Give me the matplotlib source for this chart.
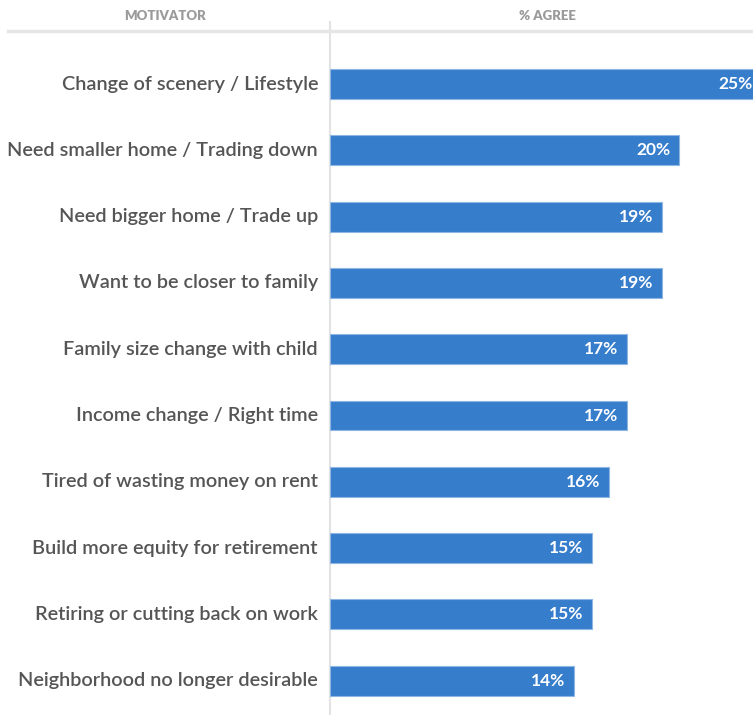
import matplotlib.pyplot as plt
from matplotlib.lines import Line2D

motivators = [
    "Change of scenery / Lifestyle",
    "Need smaller home / Trading down",
    "Need bigger home / Trade up",
    "Want to be closer to family",
    "Family size change with child",
    "Income change / Right time",
    "Tired of wasting money on rent",
    "Build more equity for retirement",
    "Retiring or cutting back on work",
    "Neighborhood no longer desirable",
]
pct_agree = [25, 20, 19, 19, 17, 17, 16, 15, 15, 14]

W, H = 753, 715
fig = plt.figure(figsize=(W / 100, H / 100), dpi=100)
plt.rcParams['font.family'] = ['Lato', 'DejaVu Sans']

# axes spans from the divider to the right edge, full height
x0 = 330
ax = fig.add_axes([x0 / W, 0, 1 - x0 / W, 1])
px_per_pct = 17.45
xmax = (W - x0) / px_per_pct
ax.set_xlim(0, xmax)
step = 66.3
first = 84
ax.set_ylim((H - first) / step, -first / step)

y = list(range(len(motivators)))
ax.barh(y, pct_agree, height=0.45, color='#367dcc', edgecolor='#8fb6e3',
        linewidth=0.8)
for yi, v in zip(y, pct_agree):
    ax.text(min(v - 0.5, xmax - 0.05), yi, f"{v}%", ha='right', va='center',
            color='white', fontsize=12.5, fontweight='bold')
for yi, name in zip(y, motivators):
    ax.text(-12 / px_per_pct, yi, name, ha='right', va='center',
            color='#555555', fontsize=14.3, fontweight='semibold',
            clip_on=False)
ax.axis('off')

# header
fig.text(165 / W, 1 - 16 / H, "MOTIVATOR", ha='center', va='center',
         color='#9a9a9a', fontsize=9.5, fontweight='heavy')
fig.text(547 / W, 1 - 16 / H, "% AGREE", ha='center', va='center',
         color='#9a9a9a', fontsize=9.5, fontweight='heavy')
fig.add_artist(Line2D([8 / W, 1], [1 - 31 / H, 1 - 31 / H],
                      color='#e6e6e6', lw=2.5, transform=fig.transFigure))
fig.add_artist(Line2D([x0 / W, x0 / W], [0, 1 - 22 / H],
                      color='#e3e3e3', lw=1.5, transform=fig.transFigure,
                      zorder=0))

fig.savefig("out.png", dpi=100)
